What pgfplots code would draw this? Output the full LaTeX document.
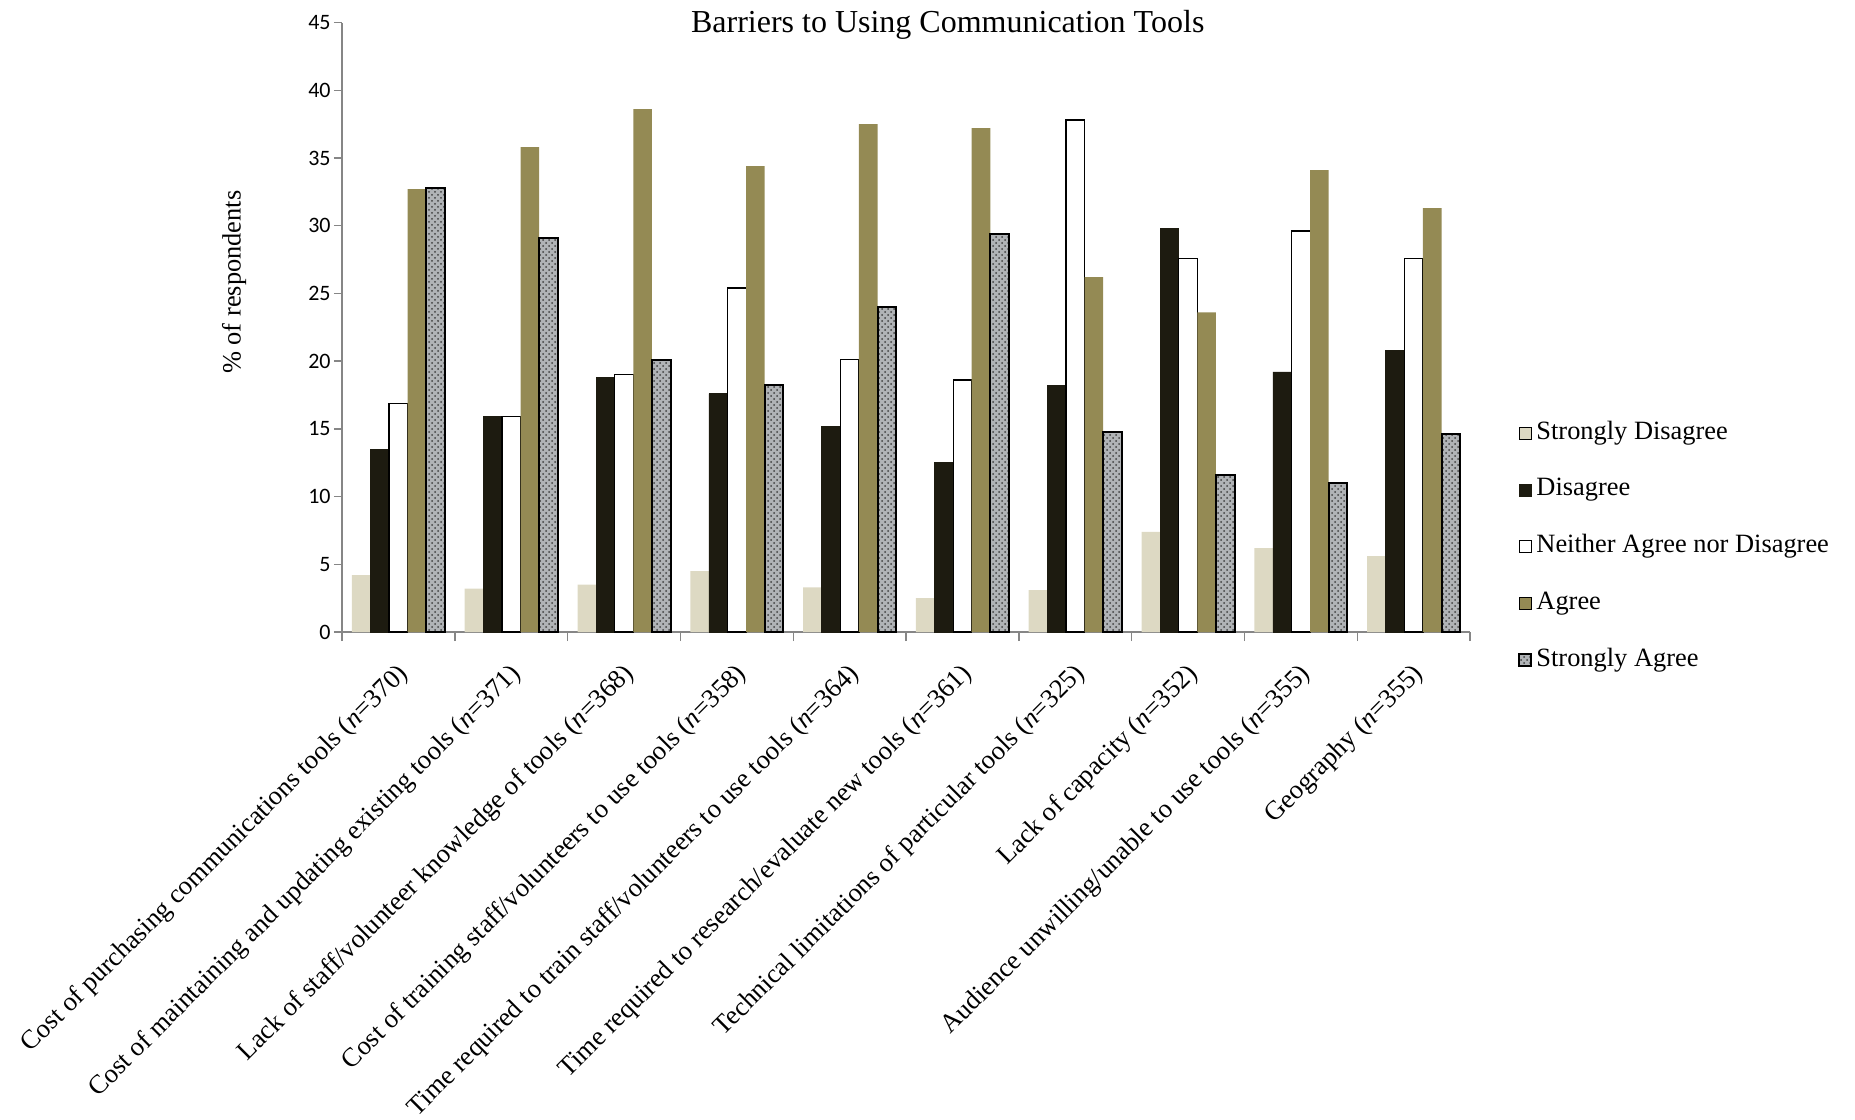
\documentclass[border=0pt]{standalone}
\usepackage{fontspec}
\setmainfont{Liberation Serif}
\newfontfamily\tnr{Liberation Serif}
\newfontfamily\calibri{Carlito}
\usepackage{pgfplots}
\usepackage{pgfplotstable}
\pgfplotsset{compat=1.18}
\usetikzlibrary{patterns}

\definecolor{sdcol}{HTML}{DDD9C3}
\definecolor{dcol}{HTML}{1D1B10}
\definecolor{acol}{HTML}{948A54}
\definecolor{sabase}{HTML}{B0B3B6}
\definecolor{axisgray}{HTML}{868686}

% Share of respondents (%) per barrier, one row per barrier
\pgfplotstableread{
idx SD   D    N    A    SA
0   4.2  13.5 16.9 32.7 32.8
1   3.2  15.9 15.9 35.8 29.1
2   3.5  18.8 19.0 38.6 20.1
3   4.5  17.6 25.4 34.4 18.2
4   3.3  15.2 20.1 37.5 24.0
5   2.5  12.5 18.6 37.2 29.4
6   3.1  18.2 37.8 26.2 14.8
7   7.4  29.8 27.6 23.6 11.6
8   6.2  19.2 29.6 34.1 11.0
9   5.6  20.8 27.6 31.3 14.6
}\barrierdata

\pgfplotsset{
  sqlegend/.style={legend image code/.code={
    \draw[##1] (0pt,-3pt) rectangle (6pt,3pt);}},
}

\newcommand{\cat}[2]{{\tnr\fontsize{13.3}{15}\selectfont #1 (\textit{n}=#2)}}

\begin{document}
\begin{tikzpicture}
\useasboundingbox (-171pt,-243.5pt) rectangle (756.5pt,316pt);
\begin{axis}[
  at={(0pt,0pt)}, anchor=south west,
  scale only axis, width=564pt, height=304.75pt,
  ybar=0pt, bar width=9.3pt,
  xmin=-0.5, xmax=9.5, ymin=0, ymax=45,
  ytick={0,5,...,45},
  xtick={0,...,9},
  minor xtick={-0.5,0.5,...,9.5},
  xticklabels={
    \cat{Cost of purchasing communications tools}{370},
    \cat{Cost of maintaining and updating existing tools}{371},
    \cat{Lack of staff/volunteer knowledge of tools}{368},
    \cat{Cost of training staff/volunteers to use tools}{358},
    \cat{Time required to train staff/volunteers to use tools}{364},
    \cat{Time required to research/evaluate new tools}{361},
    \cat{Technical limitations of particular tools}{325},
    \cat{Lack of capacity}{352},
    \cat{Audience unwilling/unable to use tools}{355},
    \cat{Geography}{355}},
  axis x line*=bottom, axis y line*=left,
  axis line style={draw=axisgray, line width=0.7pt},
  tick align=outside,
  major tick length=4pt, minor tick length=4.5pt,
  major x tick style={draw=none},
  minor x tick style={draw=axisgray, line width=0.7pt},
  ytick style={draw=axisgray, line width=0.7pt},
  yticklabel={{\calibri\fontsize{11}{13}\selectfont
    \pgfmathprintnumber[assume math mode=true]{\tick}}},
  yticklabel style={inner sep=1.5pt},
  xticklabel style={inner sep=0pt,
    xshift=3pt, yshift=-15pt, rotate=45, anchor=east},
  title={Barriers to Using Communication Tools},
  title style={at={(axis description cs:0.537,1)}, anchor=center, yshift=-7pt,
    font=\tnr\fontsize{16}{19}\selectfont, inner sep=0pt},
  ylabel={\% of respondents},
  ylabel style={at={(axis description cs:-0.0957,0.574)}, anchor=center,
    font=\tnr\fontsize{13.2}{15}\selectfont},
  legend cell align=left,
  legend style={at={(1.0426,0.140)}, anchor=west, draw=none, fill=none,
    inner sep=0pt, row sep=16.4pt,
    font=\tnr\fontsize{13.2}{15}\selectfont,
    nodes={inner sep=0pt, inner xsep=2pt, text height=9pt, text depth=3pt}},
]
\addplot[sqlegend, fill=sdcol, draw=none] table[x=idx, y=SD] {\barrierdata};
\addlegendentry{Strongly Disagree}
\addplot[sqlegend, fill=dcol, draw=dcol, line width=0.3pt] table[x=idx, y=D] {\barrierdata};
\addlegendentry{Disagree}
\addplot[sqlegend, fill=white, draw=black, line width=0.6pt] table[x=idx, y=N] {\barrierdata};
\addlegendentry{Neither Agree nor Disagree}
\addplot[sqlegend, fill=acol, draw=none] table[x=idx, y=A] {\barrierdata};
\addlegendentry{Agree}
\addplot[sqlegend, fill=sabase, draw=black, line width=1pt,
  postaction={pattern=crosshatch dots, pattern color=black!75}]
  table[x=idx, y=SA] {\barrierdata};
\addlegendentry{Strongly Agree}
\end{axis}
\end{tikzpicture}
\end{document}
